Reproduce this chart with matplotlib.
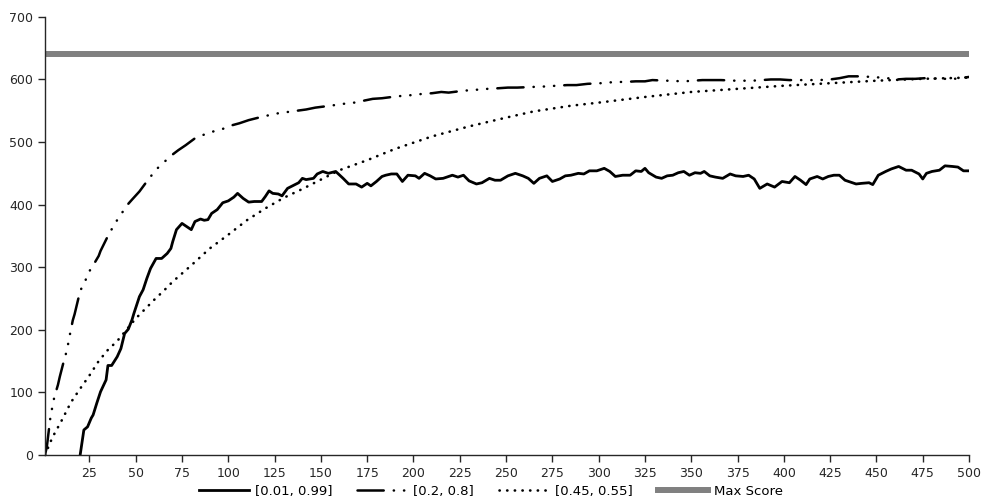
import matplotlib
matplotlib.use("Agg")
import matplotlib.pyplot as plt

# ---- data ----
x_a = [20, 22, 24, 26, 27, 29, 31, 34, 35, 37, 40, 42, 44, 46, 48, 49, 52, 54, 56, 58,
       61, 64, 67, 69, 70, 72, 75, 78, 80, 82, 85, 87, 89, 91, 94, 97, 100, 103, 105, 108,
       111, 114, 118, 120, 122, 124, 127, 129, 132, 136, 138, 140, 142, 146, 148, 151, 154, 158, 162, 165,
       169, 172, 175, 177, 180, 183, 185, 188, 191, 194, 197, 201, 203, 206, 209, 212, 216, 218, 221, 224,
       227, 230, 234, 237, 241, 244, 247, 251, 255, 259, 262, 265, 268, 272, 275, 279, 282, 285, 289, 292,
       295, 299, 303, 306, 309, 313, 317, 320, 323, 325, 327, 331, 334, 337, 340, 343, 346, 349, 352, 355,
       357, 360, 363, 367, 371, 374, 378, 381, 384, 387, 391, 395, 399, 403, 406, 409, 412, 414, 418, 421,
       424, 427, 430, 433, 435, 439, 442, 446, 448, 451, 455, 458, 462, 466, 469, 473, 475, 477, 480, 484,
       487, 491, 494, 497, 500]
y_a = [0, 40, 45, 59, 64, 83, 101, 120, 143, 143, 157, 170, 194, 201, 216, 226, 253, 264, 282, 298,
       314, 314, 322, 330, 341, 360, 370, 364, 360, 373, 377, 375, 376, 386, 392, 403, 406, 412, 418, 410,
       404, 405, 405, 413, 422, 418, 417, 414, 426, 432, 435, 442, 440, 442, 449, 453, 450, 453, 442, 433,
       433, 428, 434, 430, 437, 445, 447, 449, 449, 437, 447, 446, 442, 450, 446, 441, 442, 444, 447, 444,
       447, 438, 433, 435, 442, 439, 439, 446, 450, 446, 442, 434, 442, 446, 437, 441, 446, 447, 450, 449,
       454, 454, 458, 453, 445, 447, 447, 454, 453, 458, 451, 444, 442, 446, 447, 451, 453, 447, 451, 450,
       453, 446, 444, 442, 449, 446, 445, 447, 441, 426, 433, 428, 437, 435, 445, 439, 432, 441, 445, 441,
       445, 447, 447, 439, 437, 433, 434, 435, 432, 447, 453, 457, 461, 455, 455, 449, 441, 450, 453, 455,
       462, 461, 460, 454, 454]

x_b = [1, 2, 4, 5, 6, 8, 9, 11, 13, 14, 15, 16, 17, 20, 23, 24, 27, 30, 31, 35,
       39, 42, 45, 48, 52, 56, 61, 65, 69, 73, 77, 82, 87, 92, 97, 101, 106, 111, 119, 127,
       132, 137, 142, 147, 155, 162, 168, 173, 178, 183, 191, 199, 205, 210, 215, 219, 227, 236, 240, 246,
       251, 256, 264, 273, 277, 283, 288, 294, 301, 309, 314, 320, 325, 329, 337, 346, 351, 356, 362, 366,
       374, 383, 388, 393, 398, 403, 411, 419, 425, 430, 435, 440, 448, 456, 461, 466, 471, 476, 484, 492,
       500]
y_b = [0, 13, 62, 77, 92, 112, 125, 148, 169, 186, 200, 215, 225, 262, 280, 289, 303, 318, 326, 350,
       371, 384, 398, 408, 421, 437, 456, 467, 478, 487, 495, 506, 512, 517, 521, 526, 530, 535, 541, 546,
       548, 550, 552, 555, 558, 561, 563, 566, 569, 570, 573, 575, 577, 578, 580, 579, 582, 584, 585, 586,
       587, 587, 588, 589, 590, 591, 591, 593, 594, 596, 596, 597, 597, 599, 598, 597, 598, 599, 599, 599,
       598, 598, 599, 600, 600, 599, 599, 599, 600, 602, 605, 605, 604, 602, 600, 601, 601, 602, 601, 601,
       604]

x_c = [1, 5, 10, 15, 20, 25, 30, 35, 40, 45, 50, 55, 60, 65, 70, 75, 80, 90, 100, 110,
       120, 130, 140, 150, 160, 175, 190, 210, 230, 250, 265, 285, 300, 325, 350, 375, 400, 425, 450, 475,
       500]
y_c = [0, 28, 55, 84, 106, 127, 150, 168, 182, 200, 218, 233, 248, 262, 277, 290, 303, 330, 352, 375,
       394, 411, 425, 440, 455, 471, 489, 509, 525, 539, 549, 558, 563, 572, 580, 585, 590, 594, 598, 601,
       603]

max_score = 640
labels = ["[0.01, 0.99]", "[0.2, 0.8]", "[0.45, 0.55]", "Max Score"]
x_ticks = list(range(25, 501, 25))
y_ticks = list(range(0, 701, 100))

# ---- figure ----
fig = plt.figure(figsize=(9.82, 4.99), dpi=100)
ax = fig.add_axes([0.0458, 0.0882, 0.941, 0.878])

ax.plot(x_a, y_a, color="black", lw=2.0, ls="-", label=labels[0])
ax.plot(x_b, y_b, color="black", lw=1.8, dash_capstyle="round",
        ls=(0, (10.5, 4, 0.1, 4, 0.1, 4, 0.1, 4)), label=labels[1])
ax.plot(x_c, y_c, color="black", lw=1.9, dash_capstyle="round",
        ls=(0, (0.1, 2.8)), label=labels[2])
ax.axhline(max_score, color="#808080", lw=4.3, label=labels[3])

ax.set_xlim(1, 500)
ax.set_ylim(0, 700)
ax.set_xticks(x_ticks)
ax.set_yticks(y_ticks)
for s in ["top", "right"]:
    ax.spines[s].set_visible(False)
for s in ["left", "bottom"]:
    ax.spines[s].set_color("#262626")
    ax.spines[s].set_linewidth(1.0)
ax.tick_params(axis="both", labelsize=9, colors="#262626", length=5, width=1)

fig.legend(loc="lower center", bbox_to_anchor=(0.5, -0.022), ncol=4, frameon=False,
           fontsize=9.5, handlelength=3.8, columnspacing=1.9, handletextpad=0.45)

fig.savefig("out.png", dpi=100)
